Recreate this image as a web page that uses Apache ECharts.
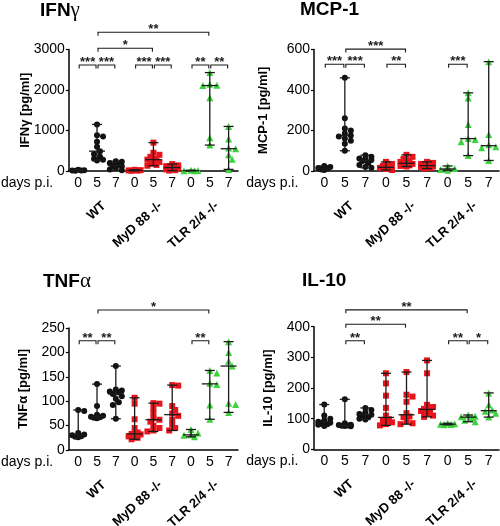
<!DOCTYPE html>
<html><head><meta charset="utf-8">
<script src="https://cdn.jsdelivr.net/npm/echarts@6/dist/echarts.min.js"></script>
<style>html,body{margin:0;padding:0;background:#fff}#c{width:500px;height:526px}</style>
</head><body><div id="c"></div>
<script>
// ---- labels ----
const dayLabels = ['0','5','7','0','5','7','0','5','7'];
const strainLabels = ['WT','MyD 88 -/-','TLR 2/4 -/-'];

// ---- IFNγ [pg/ml] : groups WT d0,d5,d7 / MyD88 d0,d5,d7 / TLR2/4 d0,d5,d7 ----
const ifnWT  = [[30, 20, 15, 10, 5], [1150, 880, 850, 720, 600, 490, 420, 350, 300, 280, 260], [240, 230, 200, 160, 130, 120, 80, 40, 20]];
const ifnMyD = [[30, 20, 15, 10, 5], [700, 450, 400, 350, 300, 280, 250, 220, 180, 150, 130], [170, 140, 120, 100, 90, 80, 60, 40, 20, 10]];
const ifnTLR = [[20, 10, 5, 8], [2430, 2140, 2120, 2110, 1810, 820, 640], [1100, 790, 570, 550, 400, 290, 40]];
const ifnSig = [[0,1,2617,'***'],[1,2,2617,'***'],[3,4,2617,'***'],[4,5,2617,'***'],[6,7,2617,'**'],[7,8,2617,'**'],[1,4,3030,'*'],[1,7,3425,'**']];

// ---- MCP-1 [pg/ml] ----
const mcpWT  = [[25, 20, 15, 12, 8, 5], [460, 260, 210, 200, 185, 175, 170, 160, 150, 135, 100], [78, 70, 62, 58, 54, 50, 40, 30, 20, 16]];
const mcpMyD = [[45, 35, 25, 18, 15, 10, 5], [80, 70, 60, 50, 45, 38, 35, 30, 28, 25, 22], [45, 40, 35, 30, 28, 25, 22, 20, 15, 12]];
const mcpTLR = [[25, 12, 8, 4], [386, 360, 230, 160, 155, 145, 76], [540, 180, 130, 120, 115, 52]];
const mcpSig = [[0,1,527,'***'],[1,2,527,'***'],[3,4,527,'**'],[6,7,527,'***'],[1,4,602,'***']];

// ---- TNFα [pg/ml] ----
const tnfWT  = [[82, 80, 35, 32, 30, 28, 27, 26], [135, 90, 72, 70, 68, 67, 66, 65], [172, 124, 122, 120, 118, 115, 110, 105, 98, 92, 64]];
const tnfMyD = [[107, 95, 63, 45, 36, 33, 32, 30, 28, 25, 22], [96, 95, 85, 75, 65, 62, 58, 50, 45, 40, 38], [133, 132, 90, 82, 75, 70, 62, 52, 45, 40]];
const tnfTLR = [[42, 35, 31, 30, 27], [163, 158, 137, 134, 92, 63], [222, 200, 182, 172, 96, 93, 77]];
const tnfSig = [[0,1,224,'**'],[1,2,224,'**'],[6,7,224,'**'],[1,7,287,'*']];

// ---- IL-10 [pg/ml] ----
const il10WT  = [[146, 110, 100, 95, 90, 87, 85, 82, 80, 76], [163, 85, 80, 79, 78, 77, 76, 75], [135, 128, 120, 115, 113, 110, 105, 100, 97]];
const il10MyD = [[248, 215, 175, 135, 110, 98, 94, 88, 82, 78], [252, 178, 172, 155, 118, 107, 105, 92, 85, 82], [290, 248, 145, 138, 132, 128, 125, 118, 110, 106]];
const il10TLR = [[85, 83, 82, 81, 80], [112, 108, 106, 104, 95, 90], [184, 145, 128, 124, 118, 105]];
const il10Sig = [[1,2,354,'**'],[6,7,354,'**'],[7,8,354,'*'],[1,4,408,'**'],[1,7,455,'**']];

// ---- y-axis scales ----
const ifnAxis = {max: 3000, interval: 1000};
const mcpAxis = {max: 600, interval: 200};
const tnfAxis = {max: 250, interval: 50};
const il10Axis = {max: 400, interval: 100};

// ---- layout / style (not data) ----
const FONT = 'Liberation Sans, Arial, sans-serif';
const panels = [
  {title: '{b|IFN}{g|γ}', tl: [40, 0], yName: 'IFNγ [pg/ml]', nameGap: 43, axis: ifnAxis, data: [ifnWT, ifnMyD, ifnTLR], sig: ifnSig,
   grid: {left: 53, top: 49.5, width: 185, height: 121.5}},
  {title: '{b|MCP-1}', tl: [300, 0], yName: 'MCP-1 [pg/ml]', nameGap: 51, axis: mcpAxis, data: [mcpWT, mcpMyD, mcpTLR], sig: mcpSig,
   grid: {left: 314, top: 49.5, width: 185, height: 121.5}},
  {title: '{b|TNF}{g|α}', tl: [43, 271], yName: 'TNFα [pg/ml]', nameGap: 45, axis: tnfAxis, data: [tnfWT, tnfMyD, tnfTLR], sig: tnfSig,
   grid: {left: 53, top: 328, width: 185, height: 122}},
  {title: '{b|IL-10}', tl: [302, 271], yName: 'IL-10 [pg/ml]', nameGap: 46, axis: il10Axis, data: [il10WT, il10MyD, il10TLR], sig: il10Sig,
   grid: {left: 314, top: 326.7, width: 185, height: 122.6}}
];
const strainStyle = [
  {symbol: 'circle', size: 6, color: '#111111'},
  {symbol: 'rect', size: 6, color: '#e8141c'},
  {symbol: 'triangle', size: 7, color: '#3fd23f'}
];
const LABEL_FONT = 'bold 13px ' + FONT;
const measureCtx = document.createElement('canvas').getContext('2d');
function textWidth(t, font) { measureCtx.font = font; return measureCtx.measureText(t).width; }

function median(a) {
  const s = a.slice().sort((x, y) => x - y); const n = s.length;
  return n % 2 ? s[(n - 1) / 2] : (s[n / 2 - 1] + s[n / 2]) / 2;
}
// horizontal spreading of overlapping dots (pixel offsets, GraphPad-like, limited spread)
function swarm(vals, ppu, size) {
  const order = vals.map((v, i) => i).sort((a, b) => vals[b] - vals[a]);
  const off = new Array(vals.length).fill(0);
  const placed = []; const step = size * 0.5, minD = size * 0.75, maxSpread = 8;
  const cands = [0];
  for (let k = 1; k * step <= maxSpread; k++) { cands.push(k * step, -k * step); }
  for (const i of order) {
    const y = vals[i] * ppu;
    let best = 0, bestD = -1;
    for (const dx of cands) {
      let d = Infinity;
      for (const p of placed) d = Math.min(d, Math.hypot(p.x - dx, p.y - y));
      if (d >= minD) { best = dx; bestD = d; break; }
      if (d > bestD) { bestD = d; best = dx; }
    }
    off[i] = best; placed.push({x: best, y});
  }
  return off;
}

function renderRange(params, api) {
  const x = api.value(0);
  const lo = api.coord([x, api.value(1)]), md = api.coord([x, api.value(2)]), hi = api.coord([x, api.value(3)]);
  const st = {stroke: '#1a1a1a', lineWidth: 1.3};
  const cw = 5, mw = 8;
  return {type: 'group', children: [
    {type: 'line', shape: {x1: lo[0], y1: lo[1], x2: hi[0], y2: hi[1]}, style: st},
    {type: 'line', shape: {x1: lo[0] - cw, y1: lo[1], x2: lo[0] + cw, y2: lo[1]}, style: st},
    {type: 'line', shape: {x1: hi[0] - cw, y1: hi[1], x2: hi[0] + cw, y2: hi[1]}, style: st},
    {type: 'line', shape: {x1: md[0] - mw, y1: md[1], x2: md[0] + mw, y2: md[1]}, style: st}
  ]};
}
function makeBracketRenderer(sig) {
  return function (params, api) {
    const a = api.coord([api.value(0), api.value(2)]);
    const b = api.coord([api.value(1), api.value(2)]);
    const x1 = a[0] + 1, x2 = b[0] - 1, y = a[1];
    return {type: 'group', children: [
      {type: 'polyline', shape: {points: [[x1, y + 3.5], [x1, y], [x2, y], [x2, y + 3.5]]},
       style: {stroke: '#1a1a1a', lineWidth: 1.1, fill: null}},
      {type: 'text', style: {text: sig[params.dataIndex][3], x: (x1 + x2) / 2, y: y - 2.5,
       align: 'center', verticalAlign: 'middle', font: 'bold 13px ' + FONT, fill: '#1a1a1a'}}
    ]};
  };
}
// rotated strain names: right end anchored under the day-5 group of each strain (placed by text centre)
function renderStrain(params, api) {
  const pt = api.coord([api.value(0), 0]);
  const th = Math.PI * 42 / 180;
  const txt = strainLabels[params.dataIndex];
  const L = textWidth(txt, LABEL_FONT);
  const ax = pt[0] + 7, ay = pt[1] + 33;
  return {type: 'text', x: ax - L / 2 * Math.cos(th), y: ay + L / 2 * Math.sin(th), rotation: th,
    style: {text: txt, align: 'center', verticalAlign: 'middle', font: LABEL_FONT, fill: '#000'}};
}
// vertical y-axis title, centred left of the axis
function makeYNameRenderer(p) {
  return function (params, api) {
    const pt = api.coord([0, api.value(1)]);
    const band = api.size([1, 0])[0];
    return {type: 'text', x: pt[0] - band / 2 - p.nameGap, y: pt[1], rotation: Math.PI / 2,
      style: {text: p.yName, align: 'center', verticalAlign: 'middle', font: 'bold 13px ' + FONT, fill: '#000'}};
  };
}

const option = {animation: false, backgroundColor: '#fff', title: [], grid: [], xAxis: [], yAxis: [], series: []};
panels.forEach((p, pi) => {
  option.title.push({text: p.title, left: p.tl[0], top: p.tl[1], padding: 0,
    textStyle: {rich: {b: {fontFamily: FONT, fontWeight: 'bold', fontSize: 19, color: '#000'},
                       g: {fontFamily: 'Liberation Serif, serif', fontWeight: 'normal', fontSize: 21, color: '#000'}}}});
  option.grid.push(Object.assign({containLabel: false}, p.grid));
  option.xAxis.push({type: 'category', gridIndex: pi, data: dayLabels,
    axisLine: {lineStyle: {color: '#000', width: 1.5}},
    axisTick: {alignWithLabel: true, length: 3, lineStyle: {color: '#000', width: 1.2}},
    axisLabel: {color: '#000', fontFamily: FONT, fontSize: 14, margin: 5, interval: 0},
    name: 'days p.i.', nameLocation: 'start', nameGap: 2,
    nameTextStyle: {color: '#000', fontFamily: FONT, fontSize: 14, verticalAlign: 'top', padding: [5, 0, 0, 0]}});
  option.yAxis.push({type: 'value', gridIndex: pi, min: 0, max: p.axis.max, interval: p.axis.interval,
    axisLine: {show: true, lineStyle: {color: '#000', width: 1.5}},
    axisTick: {show: true, length: 3, lineStyle: {color: '#000', width: 1.2}},
    splitLine: {show: false},
    axisLabel: {color: '#000', fontFamily: FONT, fontSize: 14, margin: 4, formatter: v => String(v)}});
  const ppu = p.grid.height / p.axis.max;
  const rangeData = [];
  p.data.forEach((strain, si) => {
    const s = strainStyle[si];
    const pts = [];
    strain.forEach((vals, di) => {
      const gi = si * 3 + di;
      const off = swarm(vals, ppu, s.size);
      vals.forEach((v, k) => pts.push({value: [gi, v], symbolOffset: [off[k], 0]}));
      rangeData.push([gi, Math.min(...vals), median(vals), Math.max(...vals)]);
    });
    option.series.push({type: 'scatter', xAxisIndex: pi, yAxisIndex: pi, data: pts,
      symbol: s.symbol, symbolSize: s.size, itemStyle: {color: s.color, opacity: 1}, z: 2});
  });
  option.series.push({type: 'custom', xAxisIndex: pi, yAxisIndex: pi, data: rangeData,
    renderItem: renderRange, encode: {x: 0, y: [1, 2, 3]}, z: 3, clip: false, silent: true});
  option.series.push({type: 'custom', xAxisIndex: pi, yAxisIndex: pi, data: p.sig.map(r => [r[0], r[1], r[2]]),
    renderItem: makeBracketRenderer(p.sig), encode: {x: [0, 1], y: 2}, z: 3, clip: false, silent: true});
  option.series.push({type: 'custom', xAxisIndex: pi, yAxisIndex: pi, data: strainLabels.map((s, i) => [i * 3 + 1, 0]),
    renderItem: renderStrain, encode: {x: 0, y: 1}, z: 3, clip: false, silent: true});
  option.series.push({type: 'custom', xAxisIndex: pi, yAxisIndex: pi, data: [[0, p.axis.max / 2]],
    renderItem: makeYNameRenderer(p), encode: {x: 0, y: 1}, z: 3, clip: false, silent: true});
});
const chart = echarts.init(document.getElementById('c'), null, {renderer: 'canvas'});
chart.setOption(option);
</script></body></html>
